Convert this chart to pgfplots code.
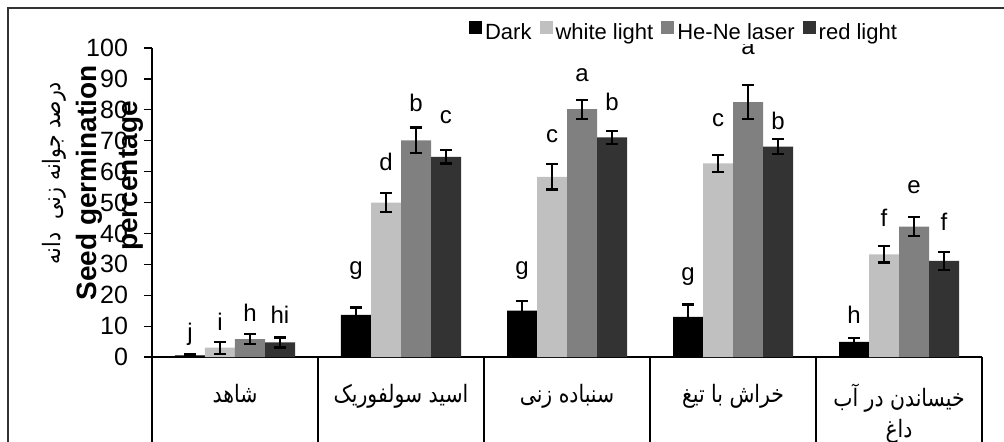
\documentclass[border=0pt]{standalone}
\usepackage{fontspec}
\setmainfont{Liberation Sans}
\newfontfamily\arabicfont[Script=Arabic, FakeStretch=0.85]{DejaVu Sans}
\TeXXeTstate=1
\usepackage{pgfplots}
\usepackage{pgfplotstable}
\pgfplotsset{compat=1.18}

% treatment groups: 0 control, 1 sulfuric acid, 2 sandpaper, 3 blade, 4 hot water
\pgfplotstableread{
x val err
0 0.5 0.3
1 13.6 2.4
2 15.0 3.1
3 13.0 4.0
4 4.9 1.2
}\darkdata
\pgfplotstableread{
x val err
0 3.0 1.9
1 50.0 3.1
2 58.3 4.1
3 62.7 2.7
4 33.2 2.6
}\whitedata
\pgfplotstableread{
x val err
0 5.8 1.7
1 70.1 4.2
2 80.2 3.1
3 82.5 5.6
4 42.2 3.1
}\henedata
\pgfplotstableread{
x val err
0 4.7 1.6
1 64.8 2.2
2 71.1 2.1
3 68.1 2.5
4 31.1 3.0
}\reddata

\definecolor{cDark}{RGB}{0,0,0}
\definecolor{cWhite}{RGB}{192,192,192}
\definecolor{cHeNe}{RGB}{128,128,128}
\definecolor{cRed}{RGB}{51,51,51}

\pgfplotsset{
  grbar/.style={
    draw=none,
    legend image code/.code={\fill[##1] (0pt,-0.5pt) rectangle (6.5pt,6pt);},
    /pgfplots/error bars/y dir=both,
    /pgfplots/error bars/y explicit,
    /pgfplots/error bars/error bar style={draw=black, line width=1.1pt},
    /pgfplots/error bars/error mark options={rotate=90, draw=black, mark size=3pt, line width=1.1pt},
  },
}
\tikzset{lbl/.style={anchor=base, font=\fontsize{12}{14}\selectfont, inner sep=0pt}}

\begin{document}
\begin{tikzpicture}
\useasboundingbox (-76pt,-42pt) rectangle (426pt,178.5pt);
\draw[line width=0.7pt, black!80] (-72pt,-50pt) -- (-72pt,174.5pt) -- (440pt,174.5pt);

\begin{axis}[
  at={(0pt,0pt)}, anchor=south west,
  scale only axis, width=415pt, height=154.5pt,
  xmin=-0.5, xmax=4.5, ymin=0, ymax=100,
  axis lines*=left,
  axis line style={line width=0.6pt, black},
  tick align=outside,
  major tick length=4pt,
  minor tick length=50pt,
  tick style={line width=0.6pt, black},
  ytick={0,10,...,100},
  yticklabel style={font=\fontsize{12.5}{14}\selectfont, xshift=-4.5pt},
  xtick={0,1,2,3,4},
  major x tick style={draw=none},
  minor xtick={-0.5,0.5,1.5,2.5,3.5,4.5},
  xticklabels={
    {\beginR شاهد\endR},
    {\beginR اسید سولفوریک\endR},
    {\beginR سنباده زنی\endR},
    {\beginR خراش با تیغ\endR},
    {\beginR خیساندن در آب\endR\\\beginR داغ\endR}},
  xticklabel style={font=\arabicfont\fontsize{12}{15.5}\selectfont, align=center, anchor=north, yshift=-6pt},
  ybar=0pt, bar width=15pt,
  clip=false,
  /pgf/number format/assume math mode=true,
  legend columns=4,
  legend style={at={(axis description cs:0.6416,1.052)}, anchor=center,
    draw=none, fill=white, font=\fontsize{11}{13}\selectfont,
    inner sep=0.5pt, nodes={inner xsep=1.5pt, inner ysep=0.5pt},
    /tikz/every even column/.append style={column sep=2.5pt}},
]
\addplot[grbar, fill=cDark] table[x=x, y=val, y error=err]{\darkdata};
\addplot[grbar, fill=cWhite] table[x=x, y=val, y error=err]{\whitedata};
\addplot[grbar, fill=cHeNe] table[x=x, y=val, y error=err]{\henedata};
\addplot[grbar, fill=cRed] table[x=x, y=val, y error=err]{\reddata};
\legend{Dark, white light, He-Ne laser, red light}

% significance letters
\node[lbl] at (axis cs:-0.271,5.5) {j};
\node[lbl] at (axis cs:-0.090,8.7) {i};
\node[lbl] at (axis cs:0.090,11.4) {h};
\node[lbl] at (axis cs:0.271,11.0) {hi};
\node[lbl] at (axis cs:0.729,26.8) {g};
\node[lbl] at (axis cs:0.910,60.2) {d};
\node[lbl] at (axis cs:1.090,79.4) {b};
\node[lbl] at (axis cs:1.271,75.6) {c};
\node[lbl] at (axis cs:1.729,26.8) {g};
\node[lbl] at (axis cs:1.910,69.4) {c};
\node[lbl] at (axis cs:2.090,89.1) {a};
\node[lbl] at (axis cs:2.271,79.9) {b};
\node[lbl] at (axis cs:2.729,24.6) {g};
\node[lbl] at (axis cs:2.910,74.5) {c};
\node[lbl] at (axis cs:3.090,98.0) {a};
\node[lbl] at (axis cs:3.271,73.7) {b};
\node[lbl] at (axis cs:3.729,10.7) {h};
\node[lbl] at (axis cs:3.910,42.2) {f};
\node[lbl] at (axis cs:4.090,52.8) {e};
\node[lbl] at (axis cs:4.271,41.1) {f};
\end{axis}

% axis titles
\node[rotate=90, anchor=base, inner sep=0pt, font=\arabicfont\fontsize{12}{14}\selectfont]
  at (-45.5pt,92pt) {\beginR درصد جوانه زنی\ \ دانه\endR};
\node[rotate=90, anchor=base, inner sep=0pt, font=\bfseries\fontsize{14}{16}\selectfont]
  at (-27.5pt,87pt) {Seed germination};
\node[rotate=90, anchor=base, inner sep=0pt, font=\bfseries\fontsize{14}{16}\selectfont]
  at (-7.5pt,90.5pt) {percentage};
\end{tikzpicture}
\end{document}
